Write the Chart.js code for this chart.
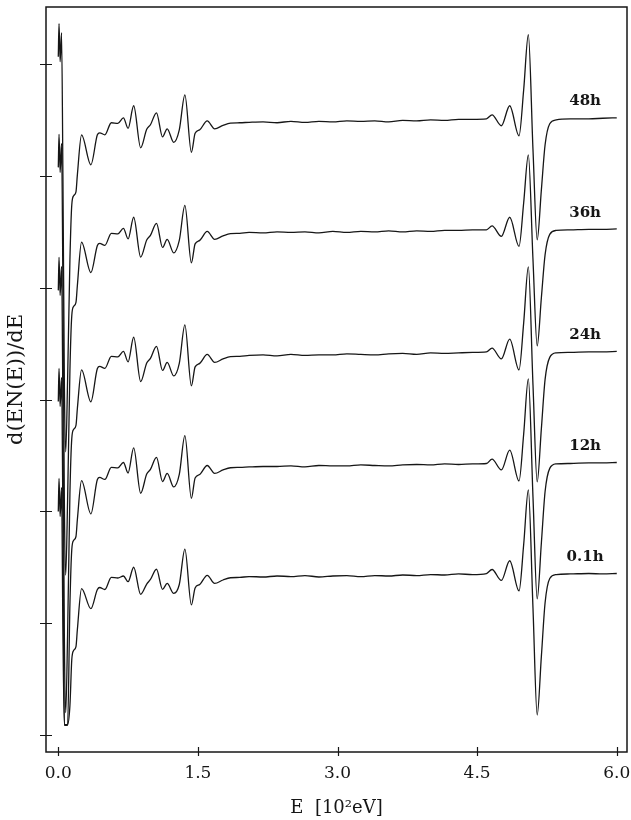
<!DOCTYPE html>
<html>
<head>
<meta charset="utf-8">
<script src="https://cdn.jsdelivr.net/npm/chart.js@4/dist/chart.umd.min.js"></script>
<style>
  html, body { margin: 0; padding: 0; background: #fff; }
  #c { display: block; }
</style>
</head>
<body>
<canvas id="c" width="631" height="820"></canvas>
<script>
// ---- data ----
const seriesLabels = ["48h", "36h", "24h", "12h", "0.1h"];
const xTickValues = [0.0, 1.5, 3.0, 4.5, 6.0];
const yTickValues = [0, 10, 20, 30, 40, 50, 60];
// vertical display offset of each spectrum (a.u.)
const offsets = [54.79, 44.90, 33.90, 23.97, 14.13];
// energy, 10^2 eV
const energy = [0, 0.008, 0.02, 0.035, 0.05, 0.065, 0.08, 0.1, 0.125, 0.145,
  0.165, 0.19, 0.205, 0.25, 0.35, 0.42, 0.445, 0.5, 0.57, 0.64,
  0.7, 0.75, 0.81, 0.885, 0.95, 0.99, 1.055, 1.12, 1.17, 1.24,
  1.3, 1.36, 1.43, 1.47, 1.52, 1.6, 1.68, 1.77, 1.85, 1.95,
  2.05, 2.2, 2.35, 2.5, 2.65, 2.8, 2.95, 3.1, 3.25, 3.4,
  3.55, 3.7, 3.85, 4.0, 4.15, 4.3, 4.45, 4.6, 4.66, 4.76,
  4.85, 4.95, 5.0, 5.05, 5.1, 5.145, 5.19, 5.23, 5.28, 5.35,
  5.5, 5.7, 5.85, 6.0];
// d(EN(E))/dE of each spectrum relative to its offset (a.u.)
const h48 = [5.86, 8.81, 5.41, 8.01, -5.14, -23.03, -29.47, -23.03, -12.30, -7.38,
  -6.57, -6.22, -4.70, -1.12, -3.80, -1.12, -0.94, -1.12, -0.04, -0.09,
  0.40, -0.54, 1.48, -2.28, -0.63, -0.22, 0.85, -1.30, -0.58, -1.79,
  -0.67, 2.46, -2.68, -0.98, -0.67, 0.13, -0.58, -0.27, -0.07, -0.04,
  0.00, 0.04, -0.04, 0.09, 0.00, 0.09, 0.04, 0.13, 0.09, 0.13,
  0.04, 0.18, 0.13, 0.22, 0.18, 0.27, 0.27, 0.31, 0.67, -0.31,
  1.48, -1.21, 2.91, 7.83, -2.46, -10.51, -6.04, -2.01, -0.13, 0.22,
  0.31, 0.31, 0.36, 0.40];
const h36 = [5.86, 8.81, 5.41, 8.01, -5.14, -23.90, -30.60, -23.90, -12.30, -7.38,
  -6.57, -6.22, -4.70, -0.83, -3.55, -1.12, -0.94, -1.12, -0.04, -0.09,
  0.40, -0.54, 1.40, -2.17, -0.63, -0.22, 0.85, -1.30, -0.58, -1.79,
  -0.67, 2.46, -2.68, -0.98, -0.67, 0.13, -0.58, -0.27, -0.07, -0.04,
  0.04, 0.00, 0.09, 0.04, 0.09, 0.00, 0.13, 0.04, 0.13, 0.09,
  0.18, 0.09, 0.18, 0.13, 0.22, 0.22, 0.27, 0.27, 0.62, -0.31,
  1.40, -1.20, 2.70, 6.98, -2.40, -10.11, -5.80, -1.95, -0.13, 0.22,
  0.27, 0.31, 0.31, 0.36];
const h24 = [5.86, 8.81, 5.41, 8.01, -5.14, -24.90, -31.90, -24.90, -12.30, -7.38,
  -6.57, -6.22, -4.70, -1.25, -4.10, -1.12, -0.94, -1.12, -0.04, -0.09,
  0.40, -0.54, 1.67, -2.30, -0.63, -0.22, 0.85, -1.30, -0.58, -1.79,
  -0.67, 2.77, -2.68, -0.98, -0.67, 0.13, -0.58, -0.27, -0.07, -0.04,
  0.04, 0.09, 0.00, 0.13, 0.04, 0.09, 0.09, 0.18, 0.13, 0.09,
  0.18, 0.22, 0.13, 0.27, 0.22, 0.27, 0.31, 0.36, 0.70, -0.27,
  1.50, -1.25, 2.95, 7.96, -2.60, -11.27, -6.50, -2.10, -0.13, 0.27,
  0.31, 0.36, 0.36, 0.40];
const h12 = [5.86, 8.81, 5.41, 8.01, -5.14, -23.10, -23.10, -23.10, -12.30, -7.38,
  -6.57, -6.22, -4.70, -1.22, -4.20, -1.12, -0.94, -1.12, -0.04, -0.09,
  0.40, -0.54, 1.70, -2.35, -0.63, -0.22, 0.85, -1.30, -0.58, -1.79,
  -0.67, 2.80, -2.80, -0.98, -0.67, 0.13, -0.58, -0.27, -0.07, -0.04,
  0.00, 0.04, 0.04, 0.09, 0.00, 0.13, 0.09, 0.09, 0.18, 0.13,
  0.09, 0.18, 0.22, 0.18, 0.27, 0.22, 0.27, 0.31, 0.70, -0.27,
  1.50, -1.25, 2.95, 7.87, -2.70, -11.80, -6.80, -2.20, -0.13, 0.27,
  0.31, 0.36, 0.36, 0.40];
const h01 = [5.86, 8.81, 5.41, 8.01, -5.14, -13.20, -13.20, -13.20, -11.50, -7.38,
  -6.57, -6.22, -4.70, -1.04, -2.83, -1.12, -0.94, -1.12, -0.04, -0.09,
  0.09, -0.42, 0.87, -1.55, -0.63, -0.22, 0.69, -1.10, -0.58, -1.46,
  -0.67, 2.50, -2.50, -0.98, -0.67, 0.15, -0.58, -0.27, -0.07, -0.04,
  0.04, 0.00, 0.09, 0.04, 0.13, 0.00, 0.09, 0.13, 0.04, 0.13,
  0.09, 0.18, 0.13, 0.22, 0.18, 0.27, 0.22, 0.31, 0.67, -0.31,
  1.45, -1.25, 2.90, 7.78, -2.80, -12.34, -7.10, -2.30, -0.13, 0.22,
  0.27, 0.31, 0.27, 0.31];
const spectra = [h48, h36, h24, h12, h01];
const labelEnergy = 5.66;   // where the curve names sit
const labelLift = 1.45;     // a.u. above the curve end

// ---- chart ----
const INK = '#161616';
const SERIF = '"DejaVu Serif", "Liberation Serif", serif';

const datasets = spectra.map((rel, k) => ({
  label: seriesLabels[k],
  data: energy.map((e, i) => ({ x: e, y: offsets[k] + rel[i] })),
  borderColor: INK,
  borderWidth: 1.3,
  pointRadius: 0,
  fill: false,
  cubicInterpolationMode: 'monotone'
}));

const decor = {
  id: 'decor',
  afterDatasetsDraw(chart) {
    const { ctx, chartArea: a, scales: { x, y } } = chart;
    ctx.save();
    ctx.strokeStyle = INK;
    ctx.lineWidth = 1.5;
    ctx.strokeRect(a.left, a.top, a.right - a.left, a.bottom - a.top);
    ctx.lineWidth = 1.2;
    ctx.beginPath();
    yTickValues.forEach(v => {
      const py = Math.round(y.getPixelForValue(v)) + 0.5;
      ctx.moveTo(a.left - 6, py); ctx.lineTo(a.left + 6, py);
    });
    xTickValues.forEach(v => {
      const px = Math.round(x.getPixelForValue(v)) + 0.5;
      ctx.moveTo(px, a.bottom - 5); ctx.lineTo(px, a.bottom + 4);
    });
    ctx.stroke();
    ctx.fillStyle = INK;
    ctx.font = 'bold 15px ' + SERIF;
    ctx.textAlign = 'center';
    ctx.textBaseline = 'middle';
    spectra.forEach((rel, k) => {
      const px = x.getPixelForValue(labelEnergy);
      const py = y.getPixelForValue(offsets[k] + rel[rel.length - 1] + labelLift);
      ctx.fillText(seriesLabels[k], px, py);
    });
    ctx.restore();
  }
};

new Chart(document.getElementById('c'), {
  type: 'line',
  data: { datasets },
  options: {
    responsive: false,
    animation: false,
    devicePixelRatio: 1,
    layout: { padding: { top: 7, right: 4, left: 0, bottom: 0 } },
    plugins: { legend: { display: false }, tooltip: { enabled: false } },
    scales: {
      x: {
        type: 'linear',
        min: -0.132, max: 6.11,
        grid: { display: false, drawTicks: false },
        border: { display: false },
        afterBuildTicks: s => { s.ticks = xTickValues.map(v => ({ value: v })); },
        afterFit: s => { s.height = 68; s.paddingLeft = 0; s.paddingRight = 0; },
        ticks: {
          padding: 11,
          color: INK,
          font: { family: SERIF, size: 17 },
          callback: v => Number(v).toFixed(1)
        },
        title: {
          display: true,
          text: 'E  [10²eV]',
          color: INK,
          font: { family: SERIF, size: 18 },
          padding: { top: 0, bottom: 1 }
        }
      },
      y: {
        type: 'linear',
        min: -1.52, max: 65.1,
        grid: { display: false, drawTicks: false },
        border: { display: false },
        afterBuildTicks: s => { s.ticks = yTickValues.map(v => ({ value: v })); },
        afterFit: s => { s.width = 46; s.paddingTop = 0; s.paddingBottom = 0; },
        ticks: { display: false },
        title: {
          display: true,
          text: 'd(EN(E))/dE',
          color: INK,
          font: { family: SERIF, size: 21 },
          padding: { top: 4, bottom: 0 }
        }
      }
    }
  },
  plugins: [decor]
});
</script>
</body>
</html>
